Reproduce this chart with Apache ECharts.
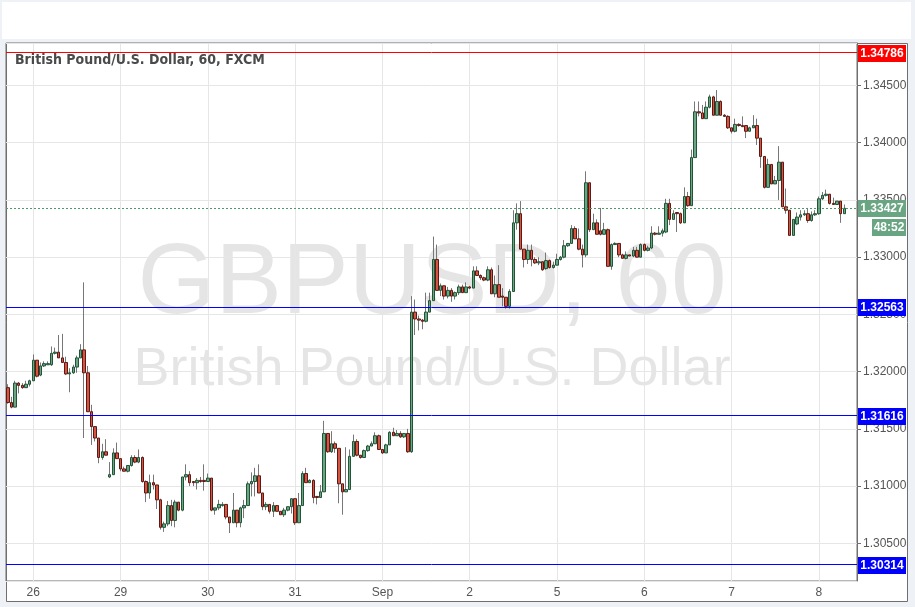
<!DOCTYPE html>
<html><head><meta charset="utf-8">
<script src="https://cdn.jsdelivr.net/npm/echarts/dist/echarts.min.js"></script>
<style>html,body{margin:0;padding:0;background:#eef1f5;}#c{width:915px;height:607px;}</style>
</head><body><div id="c"></div>
<script>
// ---- data ----
const dayLabels = ['26','29','30','31','Sep','2','5','6','7','8'];
const dayStartIndex = [7,31,55,79,103,127,151,175,199,223];
const slotCount = 234;
const open = [
1.3186,1.3173,1.3169,1.3190,1.3188,1.3186,1.3189,1.3192,1.3210,1.3197,
1.3205,1.3206,1.3206,1.3216,1.3217,1.3212,1.3208,1.3198,1.3199,1.3204,
1.3212,1.3219,1.3199,1.3165,1.3152,1.3142,1.3125,1.3130,1.3108,1.3110,
1.3129,1.3124,1.3115,1.3113,1.3118,1.3125,1.3121,1.3125,1.3104,1.3094,
1.3103,1.3101,1.3088,1.3064,1.3067,1.3083,1.3070,1.3086,1.3079,1.3108,
1.3110,1.3104,1.3103,1.3105,1.3105,1.3104,1.3107,1.3079,1.3081,1.3083,
1.3084,1.3073,1.3068,1.3079,1.3068,1.3081,1.3083,1.3102,1.3104,1.3109,
1.3094,1.3082,1.3084,1.3078,1.3083,1.3078,1.3075,1.3079,1.3082,1.3089,
1.3068,1.3083,1.3111,1.3103,1.3105,1.3091,1.3090,1.3095,1.3146,1.3130,
1.3137,1.3133,1.3102,1.3095,1.3097,1.3126,1.3139,1.3127,1.3125,1.3131,
1.3135,1.3137,1.3144,1.3132,1.3129,1.3136,1.3147,1.3144,1.3146,1.3143,
1.3146,1.3130,1.3252,1.3246,1.3245,1.3244,1.3252,1.3262,1.3298,1.3271,
1.3275,1.3266,1.3271,1.3266,1.3269,1.3274,1.3269,1.3274,1.3273,1.3288,
1.3284,1.3282,1.3280,1.3289,1.3268,1.3276,1.3266,1.3265,1.3257,1.3270,
1.3330,1.3338,1.3307,1.3298,1.3306,1.3298,1.3295,1.3296,1.3290,1.3297,
1.3291,1.3293,1.3298,1.3300,1.3310,1.3312,1.3325,1.3316,1.3307,1.3302,
1.3365,1.3324,1.3330,1.3323,1.3320,1.3324,1.3292,1.3311,1.3312,1.3302,
1.3299,1.3302,1.3301,1.3306,1.3300,1.3311,1.3306,1.3308,1.3321,1.3320,
1.3321,1.3322,1.3347,1.3333,1.3339,1.3338,1.3330,1.3353,1.3345,1.3387,
1.3427,1.3426,1.3421,1.3431,1.3440,1.3424,1.3436,1.3424,1.3423,1.3413,
1.3410,1.3416,1.3415,1.3415,1.3410,1.3413,1.3415,1.3404,1.3388,1.3361,
1.3381,1.3364,1.3367,1.3383,1.3344,1.3341,1.3319,1.3329,1.3335,1.3337,
1.3338,1.3332,1.3337,1.3338,1.3351,1.3354,1.3355,1.3347,1.3346,1.3349,
1.3338];
const high = [
1.3189,1.3178,1.3192,1.3191,1.3190,1.3192,1.3193,1.3215,1.3210,1.3208,
1.3209,1.3209,1.3222,1.3221,1.3232,1.3233,1.3213,1.3203,1.3206,1.3214,
1.3224,1.3278,1.3205,1.3171,1.3152,1.3142,1.3137,1.3141,1.3121,1.3133,
1.3138,1.3124,1.3117,1.3118,1.3127,1.3127,1.3132,1.3126,1.3105,1.3110,
1.3110,1.3101,1.3089,1.3069,1.3087,1.3088,1.3088,1.3086,1.3108,1.3119,
1.3113,1.3104,1.3107,1.3108,1.3119,1.3111,1.3107,1.3081,1.3088,1.3086,
1.3084,1.3073,1.3094,1.3079,1.3082,1.3088,1.3104,1.3112,1.3116,1.3119,
1.3094,1.3086,1.3084,1.3086,1.3083,1.3078,1.3081,1.3082,1.3089,1.3089,
1.3094,1.3113,1.3116,1.3106,1.3106,1.3091,1.3101,1.3157,1.3146,1.3148,
1.3139,1.3133,1.3102,1.3134,1.3132,1.3145,1.3141,1.3127,1.3132,1.3136,
1.3139,1.3147,1.3145,1.3132,1.3137,1.3148,1.3151,1.3149,1.3148,1.3146,
1.3150,1.3266,1.3263,1.3249,1.3246,1.3269,1.3269,1.3318,1.3311,1.3277,
1.3275,1.3274,1.3273,1.3270,1.3276,1.3276,1.3278,1.3275,1.3292,1.3292,
1.3285,1.3283,1.3292,1.3291,1.3284,1.3293,1.3273,1.3265,1.3272,1.3341,
1.3347,1.3349,1.3307,1.3311,1.3311,1.3300,1.3300,1.3296,1.3304,1.3298,
1.3296,1.3303,1.3301,1.3315,1.3312,1.3328,1.3327,1.3325,1.3311,1.3375,
1.3365,1.3338,1.3333,1.3343,1.3330,1.3325,1.3312,1.3313,1.3312,1.3303,
1.3305,1.3302,1.3309,1.3309,1.3312,1.3312,1.3310,1.3327,1.3322,1.3327,
1.3325,1.3351,1.3351,1.3341,1.3339,1.3339,1.3361,1.3357,1.3394,1.3436,
1.3436,1.3433,1.3436,1.3442,1.3441,1.3446,1.3437,1.3425,1.3424,1.3413,
1.3421,1.3417,1.3423,1.3415,1.3414,1.3424,1.3421,1.3404,1.3388,1.3386,
1.3381,1.3371,1.3397,1.3383,1.3360,1.3341,1.3333,1.3339,1.3341,1.3341,
1.3343,1.3340,1.3341,1.3353,1.3357,1.3359,1.3355,1.3352,1.3349,1.3349,
1.3346];
const low = [
1.3172,1.3168,1.3169,1.3181,1.3185,1.3186,1.3187,1.3192,1.3195,1.3196,
1.3204,1.3206,1.3205,1.3215,1.3212,1.3208,1.3197,1.3182,1.3198,1.3199,
1.3212,1.3142,1.3165,1.3136,1.3139,1.3120,1.3123,1.3127,1.3107,1.3110,
1.3124,1.3113,1.3113,1.3112,1.3117,1.3120,1.3120,1.3103,1.3086,1.3089,
1.3097,1.3080,1.3062,1.3060,1.3065,1.3065,1.3064,1.3078,1.3078,1.3105,
1.3100,1.3100,1.3097,1.3103,1.3096,1.3104,1.3078,1.3075,1.3079,1.3082,
1.3071,1.3059,1.3068,1.3064,1.3064,1.3072,1.3083,1.3091,1.3091,1.3094,
1.3079,1.3079,1.3076,1.3073,1.3078,1.3075,1.3073,1.3078,1.3076,1.3066,
1.3068,1.3083,1.3103,1.3103,1.3085,1.3084,1.3090,1.3095,1.3129,1.3129,
1.3129,1.3085,1.3075,1.3095,1.3097,1.3126,1.3126,1.3124,1.3125,1.3130,
1.3135,1.3137,1.3132,1.3128,1.3129,1.3136,1.3144,1.3144,1.3142,1.3142,
1.3129,1.3129,1.3232,1.3236,1.3237,1.3243,1.3252,1.3262,1.3271,1.3266,
1.3263,1.3264,1.3261,1.3263,1.3267,1.3269,1.3269,1.3272,1.3273,1.3284,
1.3280,1.3279,1.3279,1.3268,1.3265,1.3265,1.3257,1.3255,1.3255,1.3270,
1.3324,1.3307,1.3291,1.3294,1.3292,1.3294,1.3293,1.3288,1.3289,1.3290,
1.3290,1.3293,1.3297,1.3299,1.3309,1.3312,1.3316,1.3306,1.3291,1.3300,
1.3322,1.3324,1.3320,1.3319,1.3320,1.3292,1.3289,1.3311,1.3300,1.3299,
1.3298,1.3301,1.3300,1.3300,1.3300,1.3305,1.3305,1.3307,1.3319,1.3320,
1.3318,1.3321,1.3328,1.3333,1.3322,1.3329,1.3330,1.3344,1.3345,1.3387,
1.3423,1.3421,1.3421,1.3430,1.3424,1.3424,1.3424,1.3423,1.3412,1.3408,
1.3409,1.3414,1.3414,1.3404,1.3410,1.3413,1.3398,1.3378,1.3360,1.3361,
1.3364,1.3364,1.3350,1.3344,1.3338,1.3319,1.3319,1.3328,1.3332,1.3336,
1.3330,1.3331,1.3336,1.3337,1.3350,1.3353,1.3346,1.3346,1.3346,1.3330,
1.3338];
const close = [
1.3173,1.3169,1.3190,1.3188,1.3186,1.3189,1.3192,1.3210,1.3196,1.3205,
1.3207,1.3207,1.3216,1.3217,1.3212,1.3208,1.3198,1.3199,1.3204,1.3212,
1.3219,1.3199,1.3165,1.3152,1.3142,1.3125,1.3130,1.3127,1.3110,1.3129,
1.3124,1.3115,1.3113,1.3118,1.3125,1.3121,1.3125,1.3104,1.3094,1.3103,
1.3101,1.3088,1.3064,1.3067,1.3083,1.3070,1.3086,1.3079,1.3108,1.3110,
1.3103,1.3103,1.3105,1.3104,1.3104,1.3107,1.3079,1.3081,1.3084,1.3084,
1.3073,1.3068,1.3079,1.3068,1.3081,1.3083,1.3102,1.3104,1.3109,1.3094,
1.3082,1.3084,1.3078,1.3083,1.3078,1.3075,1.3079,1.3082,1.3089,1.3068,
1.3083,1.3111,1.3103,1.3105,1.3090,1.3090,1.3095,1.3146,1.3130,1.3137,
1.3133,1.3102,1.3095,1.3097,1.3126,1.3139,1.3127,1.3125,1.3131,1.3135,
1.3137,1.3144,1.3132,1.3129,1.3136,1.3147,1.3144,1.3146,1.3143,1.3146,
1.3130,1.3252,1.3246,1.3245,1.3244,1.3252,1.3262,1.3298,1.3271,1.3275,
1.3266,1.3271,1.3266,1.3269,1.3274,1.3269,1.3274,1.3273,1.3288,1.3284,
1.3282,1.3280,1.3289,1.3268,1.3276,1.3265,1.3265,1.3257,1.3270,1.3330,
1.3338,1.3307,1.3298,1.3306,1.3298,1.3295,1.3296,1.3289,1.3297,1.3291,
1.3293,1.3298,1.3300,1.3310,1.3312,1.3325,1.3316,1.3307,1.3302,1.3365,
1.3324,1.3330,1.3320,1.3320,1.3324,1.3292,1.3311,1.3312,1.3302,1.3299,
1.3302,1.3301,1.3306,1.3300,1.3311,1.3306,1.3308,1.3321,1.3320,1.3321,
1.3323,1.3347,1.3333,1.3338,1.3338,1.3330,1.3353,1.3345,1.3387,1.3427,
1.3426,1.3421,1.3431,1.3440,1.3424,1.3436,1.3424,1.3423,1.3413,1.3410,
1.3416,1.3415,1.3414,1.3410,1.3413,1.3415,1.3404,1.3388,1.3361,1.3381,
1.3364,1.3367,1.3383,1.3344,1.3341,1.3319,1.3333,1.3335,1.3337,1.3338,
1.3332,1.3337,1.3338,1.3351,1.3354,1.3355,1.3347,1.3346,1.3349,1.3338,
1.33427];
const resistanceLevel = 1.34786;
const supportLevels = [1.32563, 1.31616, 1.30314];
const lastPrice = 1.33427;
const countdownText = '48:52';
const titleText = 'British Pound/U.S. Dollar, 60, FXCM';
const watermarkSymbol = 'GBPUSD, 60';
const watermarkName = 'British Pound/U.S. Dollar';
const priceMin = 1.30171, priceMax = 1.34871;

// ---- chart ----
const categories = Array.from({length: slotCount}, (_, i) => String(i));
const labelMap = {};
dayStartIndex.forEach((d, k) => { labelMap[d] = dayLabels[k]; });
const wickData = open.map((o, i) => [o, close[i], low[i], high[i]]);
const bodyData = open.map((o, i) => [o, close[i], Math.min(o, close[i]), Math.max(o, close[i])]);

const chart = echarts.init(document.getElementById('c'), null, {renderer: 'canvas'});
const FONT = 'Liberation Sans, Arial, sans-serif';
const option = {
  animation: false,
  backgroundColor: '#eef1f5',
  textStyle: {fontFamily: FONT},
  grid: {left: 6, top: 43, width: 851, height: 538, show: true, borderColor: '#6f6f6f', borderWidth: 1, backgroundColor: 'transparent'},
  xAxis: {
    type: 'category', data: categories, boundaryGap: true,
    axisLine: {show: false}, axisTick: {show: false}, splitLine: {show: false},
    axisLabel: {interval: (i) => labelMap[i] !== undefined, formatter: (v, i) => labelMap[i] || '',
      color: '#555', fontSize: 12, margin: 6, fontFamily: FONT}
  },
  yAxis: {
    type: 'value', position: 'right', min: priceMin, max: priceMax, splitNumber: 9, scale: true, z: 1,
    axisLine: {show: true, lineStyle: {color: '#6f6f6f'}},
    axisTick: {show: true, length: 4, lineStyle: {color: '#6f6f6f'}},
    axisLabel: {color: '#555', fontSize: 12, margin: 6, fontFamily: FONT, showMinLabel: false, showMaxLabel: false,
      formatter: v => v.toFixed(5)},
    splitLine: {show: true, lineStyle: {color: '#e6e6e6', width: 1}}
  },
  graphic: [
    {type: 'rect', z: -10, silent: true, shape: {x: 2, y: 2, width: 909, height: 37}, style: {fill: '#ffffff'}},
    {type: 'rect', z: -10, silent: true, shape: {x: 6.5, y: 43.5, width: 901, height: 558}, style: {fill: '#ffffff', stroke: '#6f6f6f', lineWidth: 1}},
    {type: 'text', z: 0, silent: true, x: 432, y: 285, style: {text: watermarkSymbol, font: '100px ' + FONT, fill: 'rgba(0,0,0,0.1)', textAlign: 'center', textVerticalAlign: 'middle'}},
    {type: 'text', z: 0, silent: true, x: 432, y: 370, style: {text: watermarkName, font: '54px ' + FONT, fill: 'rgba(0,0,0,0.1)', textAlign: 'center', textVerticalAlign: 'middle'}},
    {type: 'text', z: 10, silent: true, x: 15, y: 60, style: {text: titleText, font: 'bold 14px "Liberation Sans Narrow", "DejaVu Sans Condensed", sans-serif', fill: '#4a4a4a', textVerticalAlign: 'middle'}}
  ],
  series: [
    {
      type: 'line', data: [], z: 1, silent: true,
      markLine: {silent: true, z: 1, symbol: ['none', 'none'], label: {show: false},
        lineStyle: {color: '#e6e6e6', width: 1, type: 'solid'},
        data: dayStartIndex.map(i => ({xAxis: i}))}
    },
    {
      type: 'candlestick', data: wickData, z: 2, barWidth: 1, silent: true,
      itemStyle: {color: '#777777', color0: '#777777', borderColor: '#777777', borderColor0: '#777777', borderWidth: 1}
    },
    {
      type: 'candlestick', data: bodyData, z: 3, barWidth: 3, silent: true,
      itemStyle: {color: '#6ba583', color0: '#d75442', borderColor: '#225437', borderColor0: '#5b1a13', borderWidth: 1}
    },
    {
      type: 'line', data: [], z: 5, silent: true,
      markLine: {silent: true, z: 5, precision: 5, symbol: ['none', 'none'], label: {show: false},
        data: [
          {yAxis: resistanceLevel, lineStyle: {color: '#ff0000', width: 1, type: 'solid'}},
          ...supportLevels.map(v => ({yAxis: v, lineStyle: {color: '#0000ff', width: 1, type: 'solid'}})),
          {yAxis: lastPrice, lineStyle: {color: '#4f9a6d', width: 1, type: [2, 2]}}
        ]}
    }
  ]
};
chart.setOption(option);

// right-side price tags
const tags = [];
function tag(value, text, bg, dy, x, w) {
  const y = chart.convertToPixel({yAxisIndex: 0}, value) + dy;
  tags.push({type: 'rect', z: 20, silent: true, shape: {x: x, y: Math.round(y) - 8, width: w, height: 17}, style: {fill: bg}});
  tags.push({type: 'text', z: 21, silent: true, x: x + w / 2, y: Math.round(y) + 0.5,
    style: {text: text, font: 'bold 12px ' + FONT, fill: '#ffffff', textAlign: 'center', textVerticalAlign: 'middle'}});
}
tag(resistanceLevel, resistanceLevel.toFixed(5), '#ff0000', 0, 858, 48);
supportLevels.forEach(v => tag(v, v.toFixed(5), '#0000ff', 0, 858, 48));
tag(lastPrice, lastPrice.toFixed(5), '#6aa583', 0, 858, 48);
tag(lastPrice, countdownText, '#6aa583', 19, 872, 34);
chart.setOption({graphic: option.graphic.concat(tags)});
</script>
</body></html>
